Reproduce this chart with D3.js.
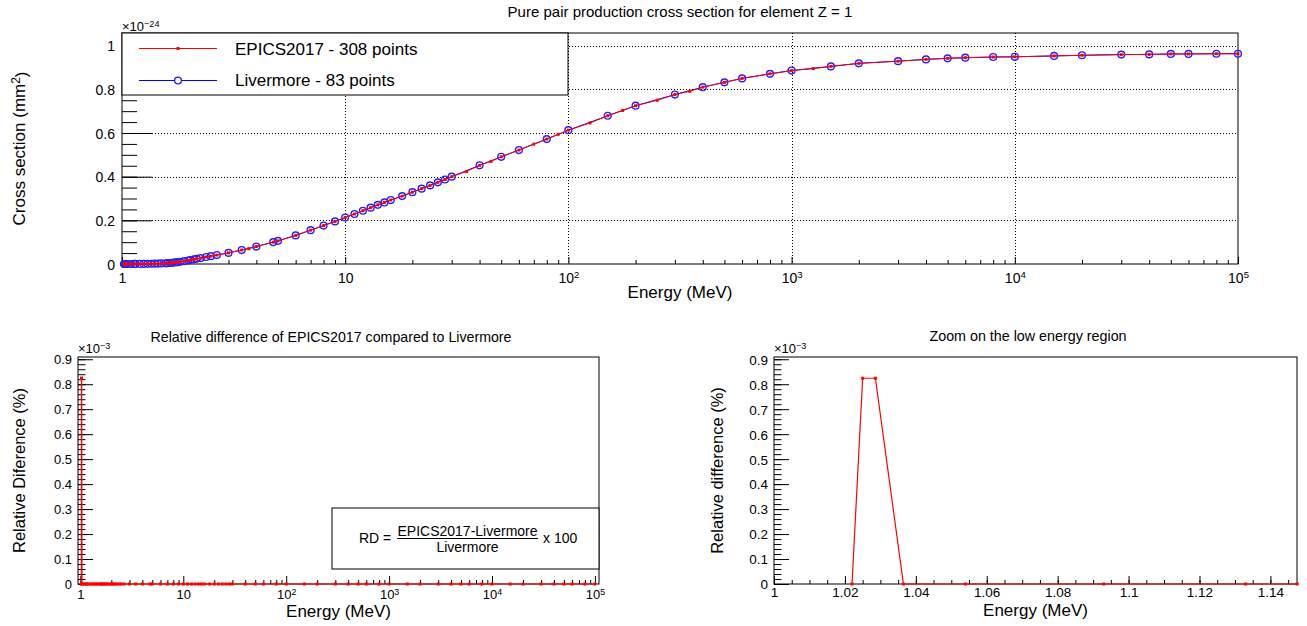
<!DOCTYPE html>
<html>
<head>
<meta charset="utf-8">
<script src="https://cdn.jsdelivr.net/npm/d3@7"></script>
<style>
body { margin: 0; background: #fff; }
svg { display: block; font-family: 'Liberation Sans', Arial, sans-serif; }
</style>
</head>
<body>
<svg id="chart" width="1307" height="626"></svg>
<script>
// Livermore grid (83 points), cross section in units of 1e-24 mm2
const livermoreEnergy = [1.022, 1.025, 1.0286, 1.0365, 1.054, 1.093, 1.133, 1.1475, 1.2, 1.25, 1.3, 1.35, 1.4, 1.45, 1.5,
	1.57, 1.6, 1.64, 1.68, 1.73, 1.77, 1.82, 1.9, 1.98, 2.02, 2.1, 2.16, 2.25, 2.38, 2.5, 2.66, 3.0, 3.44, 4.0, 4.76, 5.0,
	6, 7, 8, 9, 10, 11, 12, 13, 14, 15, 16, 18, 20, 22, 24, 26, 28, 30, 40, 50, 60, 80, 100, 150, 200, 300, 400, 500, 600,
	800, 1000, 1500, 2000, 3000, 4000, 5000, 6000, 8000, 1e4, 1.5e4, 2e4, 3e4, 4e4, 5e4, 6e4, 8e4, 1e5];
const livermoreXS = [0, 0.000002, 0.000005, 0.00001, 0.00003, 0.00008, 0.00015, 0.0002, 0.0003, 0.0005, 0.0008, 0.0011, 0.0015, 0.002, 0.0025,
	0.003, 0.0036, 0.0045, 0.0055, 0.007, 0.0082, 0.0098, 0.013, 0.016, 0.018, 0.021, 0.024, 0.027, 0.032, 0.036, 0.041, 0.051, 0.064, 0.080, 0.100, 0.106,
	0.131, 0.155, 0.176, 0.195, 0.213, 0.229, 0.244, 0.258, 0.271, 0.282, 0.293, 0.311, 0.329, 0.345, 0.360, 0.374, 0.387, 0.400, 0.452, 0.491, 0.522, 0.572, 0.613, 0.679, 0.725, 0.776, 0.810, 0.832, 0.850,
	0.871, 0.886, 0.905, 0.919, 0.929, 0.937, 0.942, 0.945, 0.948, 0.949, 0.953, 0.956, 0.959, 0.960, 0.962, 0.962, 0.963, 0.963];

// EPICS2017 points that can be seen on the curve
const epicsEnergy = [1.022, 1.025, 1.0286, 1.0365, 1.054, 1.093, 1.133, 1.1475, 1.2, 1.25, 1.3, 1.35, 1.4, 1.45, 1.5,
	1.57, 1.6, 1.64, 1.68, 1.73, 1.77, 1.82, 1.9, 1.98, 2.02, 2.1, 2.16, 2.25, 2.38, 2.5, 2.66, 3.0, 3.44, 3.7, 4.0, 4.76, 5.0,
	6, 7, 8, 9, 10, 11, 12, 13, 14, 15, 16, 18, 20, 22, 24, 26, 28, 30, 35, 40, 45, 50, 60, 70, 80, 90, 100, 125, 150, 175, 200, 250, 300, 350, 400, 500, 600,
	800, 1000, 1250, 1500, 2000, 3000, 4000, 5000, 6000, 8000, 1e4, 1.5e4, 2e4, 3e4, 4e4, 5e4, 6e4, 8e4, 1e5];
const epicsXS = [0, 0.000002, 0.000005, 0.00001, 0.00003, 0.00008, 0.00015, 0.0002, 0.0003, 0.0005, 0.0008, 0.0011, 0.0015, 0.002, 0.0025,
	0.003, 0.0036, 0.0045, 0.0055, 0.007, 0.0082, 0.0098, 0.013, 0.016, 0.018, 0.021, 0.024, 0.027, 0.032, 0.036, 0.041, 0.051, 0.064, 0.070, 0.080, 0.100, 0.106,
	0.131, 0.155, 0.176, 0.195, 0.213, 0.229, 0.244, 0.258, 0.271, 0.282, 0.293, 0.311, 0.329, 0.345, 0.360, 0.374, 0.387, 0.400, 0.424, 0.452, 0.470, 0.491, 0.522, 0.549, 0.572, 0.594, 0.613, 0.646, 0.679, 0.703, 0.725, 0.750, 0.776, 0.791, 0.810, 0.832, 0.850,
	0.871, 0.886, 0.895, 0.905, 0.919, 0.929, 0.937, 0.942, 0.945, 0.948, 0.949, 0.953, 0.956, 0.959, 0.960, 0.962, 0.962, 0.963, 0.963];

// relative difference (units of 1e-3 %) at the Livermore energies
const relDiff = [0, 0.824, 0.824, 0, 0, 0, 0, 0, 0, 0, 0, 0, 0, 0, 0,
	0, 0, 0, 0, 0, 0, 0, 0, 0, 0, 0, 0, 0, 0, 0, 0, 0, 0, 0, 0, 0,
	0, 0, 0, 0, 0, 0, 0, 0, 0, 0, 0, 0, 0, 0, 0, 0, 0, 0, 0, 0, 0, 0, 0, 0, 0, 0, 0, 0, 0,
	0, 0, 0, 0, 0, 0, 0, 0, 0, 0, 0, 0, 0, 0, 0, 0, 0, 0];

const logMajors = [1, 10, 100, 1000, 1e4, 1e5];
const xsTicks = [0, 0.2, 0.4, 0.6, 0.8, 1];
const rdTicks = [0, 0.1, 0.2, 0.3, 0.4, 0.5, 0.6, 0.7, 0.8, 0.9];
const zoomTicks = [1, 1.02, 1.04, 1.06, 1.08, 1.1, 1.12, 1.14];

const svg = d3.select('#chart');
const FONT = "'Liberation Sans', Arial, sans-serif";

let logMinors = [];
for (let k = 0; k < 5; k++) for (let m = 2; m <= 9; m++) logMinors.push(m * Math.pow(10, k));
const range = (a, b, s) => d3.range(Math.round((b - a) / s) + 1).map((i) => +(a + i * s).toFixed(4));

function fmtLog(sel, d) {
	const e = Math.round(Math.log10(d));
	if (e === 0) sel.text('1');
	else if (e === 1) sel.text('10');
	else {
		sel.append('tspan').text('10');
		sel.append('tspan').attr('dy', '-0.5em').style('font-size', '0.68em').text(e);
	}
}
function fmtNum(sel, d) {
	sel.text(d3.format('~g')(d));
}

// draws ticks (inside), labels and frame of one panel
function drawAxes(p) {
	const [fx0, fx1] = p.x.range();
	const [fy1, fy0] = p.y.range();
	const g = svg.append('g');

	g.append('g').attr('transform', `translate(0,${fy1})`)
		.call(d3.axisBottom(p.x).tickValues(p.xMinor.filter((v) => v >= p.x.domain()[0] && v <= p.x.domain()[1])).tickSizeInner(-4).tickSizeOuter(0).tickFormat(''))
		.call((s) => s.select('.domain').remove());
	const gx = g.append('g').attr('transform', `translate(0,${fy1})`)
		.call(d3.axisBottom(p.x).tickValues(p.xMajor).tickSizeInner(-p.xLen).tickSizeOuter(0).tickFormat(''));
	gx.select('.domain').remove();
	gx.selectAll('.tick text').remove();
	gx.selectAll('.tick').append('text')
		.attr('y', p.xLabelDy)
		.attr('text-anchor', 'middle')
		.attr('fill', '#000')
		.style('font-family', FONT)
		.style('font-size', p.tickFont + 'px')
		.each(function (d) { p.xFmt(d3.select(this), d); });

	g.append('g').attr('transform', `translate(${fx0},0)`)
		.call(d3.axisLeft(p.y).tickValues(p.yMinor).tickSizeInner(-p.yLen / 2).tickSizeOuter(0).tickFormat(''))
		.call((s) => s.select('.domain').remove());
	const gy = g.append('g').attr('transform', `translate(${fx0},0)`)
		.call(d3.axisLeft(p.y).tickValues(p.yMajor).tickSizeInner(-p.yLen).tickSizeOuter(0).tickFormat(''));
	gy.select('.domain').remove();
	gy.selectAll('.tick text').remove();
	gy.selectAll('.tick').append('text')
		.attr('x', -p.yLabelGap)
		.attr('dy', '0.36em')
		.attr('text-anchor', 'end')
		.attr('fill', '#000')
		.style('font-family', FONT)
		.style('font-size', p.tickFont + 'px')
		.each(function (d) { fmtNum(d3.select(this), d); });

	g.selectAll('.tick line').attr('stroke', '#000');

	g.append('rect')
		.attr('x', fx0).attr('y', fy0)
		.attr('width', fx1 - fx0).attr('height', fy1 - fy0)
		.attr('fill', 'none').attr('stroke', '#000').attr('stroke-width', 1);

	// exponent label
	const ex = svg.append('text').attr('x', fx0).attr('y', fy0 - p.expDy)
		.style('font-size', p.expFont + 'px').attr('fill', '#000');
	ex.append('tspan').text('\u00d710');
	ex.append('tspan').attr('dy', '-0.45em').style('font-size', '0.7em').text(p.exp);

	svg.append('text').attr('x', p.titleX).attr('y', p.titleY).attr('text-anchor', 'middle')
		.style('font-size', p.titleFont + 'px').attr('fill', '#000').text(p.title);
	svg.append('text').attr('x', (fx0 + fx1) / 2).attr('y', p.xTitleY).attr('text-anchor', 'middle')
		.style('font-size', '17px').attr('fill', '#000').text(p.xTitle);
	const yt = svg.append('text')
		.attr('transform', `translate(${p.yTitleX},${(fy0 + fy1) / 2}) rotate(-90)`)
		.attr('text-anchor', 'middle').style('font-size', p.yTitleFont + 'px').attr('fill', '#000');
	p.yTitle(yt);
}

// clip to the frame in x, a little looser in y so markers on the axis stay whole
function clipFor(id, x, y) {
	svg.append('clipPath').attr('id', id).append('rect')
		.attr('x', x.range()[0] - 2).attr('y', y.range()[1] - 3)
		.attr('width', x.range()[1] - x.range()[0] + 4).attr('height', y.range()[0] - y.range()[1] + 6);
}

function redSquares(g, pts, x, y) {
	g.selectAll(null).data(pts).join('rect')
		.attr('x', (d) => x(d[0]) - 1.5).attr('y', (d) => y(d[1]) - 1.5)
		.attr('width', 3).attr('height', 3).attr('fill', '#ff0000');
}

// ---------------- top panel ----------------
const xTop = d3.scaleLog().domain([1, 1e5]).range([122, 1238]);
const yTop = d3.scaleLinear().domain([0, 1.058]).range([264, 33]);

const grid = svg.append('g').attr('stroke', '#000').attr('stroke-dasharray', '1,2').attr('stroke-width', 1);
grid.selectAll(null).data(logMajors.slice(1, -1)).join('line')
	.attr('x1', (d) => Math.round(xTop(d)) + 0.5).attr('x2', (d) => Math.round(xTop(d)) + 0.5)
	.attr('y1', 33).attr('y2', 264);
grid.selectAll(null).data(xsTicks.slice(1)).join('line')
	.attr('x1', 122).attr('x2', 1238)
	.attr('y1', (d) => Math.round(yTop(d)) + 0.5).attr('y2', (d) => Math.round(yTop(d)) + 0.5);

drawAxes({
	x: xTop, y: yTop, xMajor: logMajors, xMinor: logMinors, xLen: 7,
	yMajor: xsTicks, yMinor: range(0, 1.05, 0.05), yLen: 30,
	xLabelDy: 19, yLabelGap: 7, tickFont: 14, xFmt: fmtLog,
	exp: '\u221224', expDy: 2, expFont: 13,
	title: 'Pure pair production cross section for element Z = 1', titleX: 680, titleY: 17, titleFont: 15,
	xTitle: 'Energy (MeV)', xTitleY: 298, yTitleX: 25, yTitleFont: 17,
	yTitle: (t) => { t.append('tspan').text('Cross section (mm'); t.append('tspan').attr('dy', '-0.45em').style('font-size', '0.7em').text('2'); t.append('tspan').attr('dy', '0.45em').text(')'); }
});

const livPts = livermoreEnergy.map((e, i) => [e, livermoreXS[i]]);
const epicsPts = epicsEnergy.map((e, i) => [e, epicsXS[i]]);
const lineTop = d3.line().x((d) => xTop(d[0])).y((d) => yTop(d[1]));

const gTop = svg.append('g');
gTop.append('path').attr('d', lineTop(livPts)).attr('fill', 'none').attr('stroke', '#0000ff').attr('stroke-width', 1);
gTop.selectAll(null).data(livPts).join('circle')
	.attr('cx', (d) => xTop(d[0])).attr('cy', (d) => yTop(d[1])).attr('r', 3.4)
	.attr('fill', 'none').attr('stroke', '#2222ff').attr('stroke-width', 1.4);
gTop.append('path').attr('d', lineTop(epicsPts)).attr('fill', 'none').attr('stroke', '#ff0000').attr('stroke-width', 1);
redSquares(gTop, epicsPts, xTop, yTop);

// legend
const leg = svg.append('g');
leg.append('rect').attr('x', 122).attr('y', 33).attr('width', 446).attr('height', 62)
	.attr('fill', '#fff').attr('stroke', '#000').attr('stroke-width', 1);
leg.append('line').attr('x1', 139).attr('x2', 217).attr('y1', 48.5).attr('y2', 48.5).attr('stroke', '#ff0000');
leg.append('rect').attr('x', 176.5).attr('y', 47).attr('width', 3).attr('height', 3).attr('fill', '#ff0000');
leg.append('text').attr('x', 235).attr('y', 55).style('font-size', '17px').text('EPICS2017 - 308 points');
leg.append('line').attr('x1', 139).attr('x2', 217).attr('y1', 80.5).attr('y2', 80.5).attr('stroke', '#0000ff');
leg.append('circle').attr('cx', 178).attr('cy', 80.5).attr('r', 3.4).attr('fill', '#fff').attr('stroke', '#2222ff').attr('stroke-width', 1.4);
leg.append('text').attr('x', 235).attr('y', 86).style('font-size', '17px').text('Livermore - 83 points');

// ---------------- bottom left panel ----------------
const rdPts = livermoreEnergy.map((e, i) => [e, relDiff[i]]);
const xBL = d3.scaleLog().domain([0.948, 1.096e5]).range([78, 599]);
const yBL = d3.scaleLinear().domain([0, 0.909]).range([584, 357]);

drawAxes({
	x: xBL, y: yBL, xMajor: logMajors, xMinor: logMinors, xLen: 8,
	yMajor: rdTicks, yMinor: range(0, 0.9, 0.02), yLen: 15,
	xLabelDy: 15, yLabelGap: 6, tickFont: 13, xFmt: fmtLog,
	exp: '\u22123', expDy: 4, expFont: 13,
	title: 'Relative difference of EPICS2017 compared to Livermore', titleX: 331, titleY: 342, titleFont: 14.2,
	xTitle: 'Energy (MeV)', xTitleY: 617, yTitleX: 25, yTitleFont: 16.5,
	yTitle: (t) => t.text('Relative Diference (%)')
});

clipFor('clipBL', xBL, yBL);
const gBL = svg.append('g').attr('clip-path', 'url(#clipBL)');
gBL.append('path').attr('d', d3.line().x((d) => xBL(d[0])).y((d) => yBL(d[1]))(rdPts))
	.attr('fill', 'none').attr('stroke', '#ff0000').attr('stroke-width', 1.2);
redSquares(gBL, rdPts, xBL, yBL);

// formula box
const fb = svg.append('g').style('font-size', '14px');
fb.append('rect').attr('x', 332).attr('y', 508).attr('width', 267).attr('height', 61)
	.attr('fill', '#fff').attr('stroke', '#000').attr('stroke-width', 1);
fb.append('text').attr('x', 359).attr('y', 543).text('RD =');
fb.append('text').attr('x', 467.5).attr('y', 535.5).attr('text-anchor', 'middle').text('EPICS2017-Livermore');
fb.append('line').attr('x1', 397).attr('x2', 538).attr('y1', 538.5).attr('y2', 538.5).attr('stroke', '#000');
fb.append('text').attr('x', 467.5).attr('y', 551.5).attr('text-anchor', 'middle').text('Livermore');
fb.append('text').attr('x', 543).attr('y', 543).text('x 100');

// ---------------- bottom right panel ----------------
const xBR = d3.scaleLinear().domain([1, 1.1475]).range([774, 1297]);
const yBR = d3.scaleLinear().domain([0, 0.909]).range([584, 357]);

drawAxes({
	x: xBR, y: yBR, xMajor: zoomTicks, xMinor: range(1, 1.145, 0.005), xLen: 8,
	yMajor: rdTicks, yMinor: range(0, 0.9, 0.02), yLen: 15,
	xLabelDy: 13, yLabelGap: 6, tickFont: 13.5, xFmt: fmtNum,
	exp: '\u22123', expDy: 4, expFont: 13,
	title: 'Zoom on the low energy region', titleX: 1028, titleY: 341, titleFont: 14.3,
	xTitle: 'Energy (MeV)', xTitleY: 616, yTitleX: 723, yTitleFont: 16.5,
	yTitle: (t) => t.text('Relative difference (%)')
});

clipFor('clipBR', xBR, yBR);
const gBR = svg.append('g').attr('clip-path', 'url(#clipBR)');
gBR.append('path').attr('d', d3.line().x((d) => xBR(d[0])).y((d) => yBR(d[1]))(rdPts))
	.attr('fill', 'none').attr('stroke', '#ff0000').attr('stroke-width', 1.2);
redSquares(gBR, rdPts, xBR, yBR);
</script>
</body>
</html>
